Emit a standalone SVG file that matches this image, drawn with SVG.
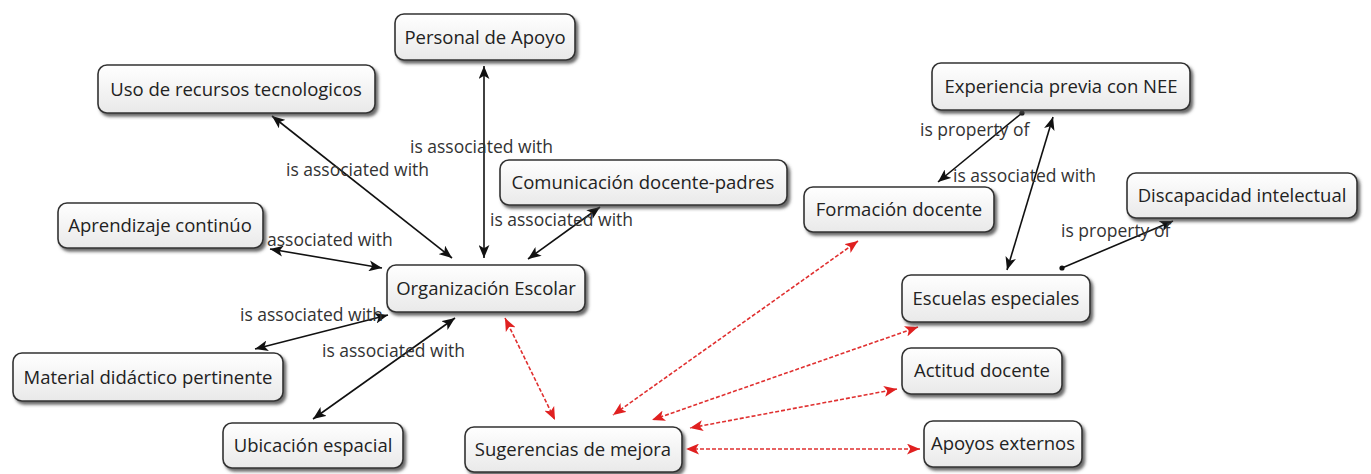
<svg xmlns="http://www.w3.org/2000/svg" width="1371" height="474" viewBox="0 0 1371 474">
<style>
.box{fill:url(#g);stroke:#333;stroke-width:1.6;filter:url(#sh)}
.nt{font-family:"Open Sans","Noto Sans",sans-serif;font-size:18.5px;fill:#222;text-anchor:middle}
.lb{font-family:"Open Sans","Noto Sans",sans-serif;font-size:17.5px;fill:#333}
.bk{stroke:#111;stroke-width:1.6;fill:none;marker-start:url(#ab);marker-end:url(#ab)}
.pr{stroke:#111;stroke-width:1.6;fill:none;marker-start:url(#dot);marker-end:url(#ab)}
.rd{stroke:#e03030;stroke-width:1.6;fill:none;stroke-dasharray:4 2;marker-start:url(#ar);marker-end:url(#ar)}
</style>
<defs>
<linearGradient id="g" x1="0" y1="0" x2="0" y2="1">
<stop offset="0" stop-color="#ffffff"/>
<stop offset="1" stop-color="#e9e9e9"/>
</linearGradient>
<filter id="sh" x="-10%" y="-20%" width="130%" height="160%">
<feDropShadow dx="2.5" dy="3" stdDeviation="1.5" flood-color="#444" flood-opacity="0.8"/>
</filter>
<marker id="ab" viewBox="0 0 12 10" refX="12" refY="5" markerWidth="13" markerHeight="11" markerUnits="userSpaceOnUse" orient="auto-start-reverse">
<path d="M0,0 L12,5 L0,10 L3,5 Z" fill="#111"/>
</marker>
<marker id="ar" viewBox="0 0 12 10" refX="12" refY="5" markerWidth="13" markerHeight="11" markerUnits="userSpaceOnUse" orient="auto-start-reverse">
<path d="M0,0 L12,5 L0,10 L3,5 Z" fill="#e02020"/>
</marker>
<marker id="dot" viewBox="0 0 6 6" refX="3" refY="3" markerWidth="6" markerHeight="6" markerUnits="userSpaceOnUse">
<circle cx="3" cy="3" r="2.6" fill="#111"/>
</marker>
</defs>
<rect width="1371" height="474" fill="#fff"/>
<g id="connectors">
<line class="bk" x1="272" y1="116" x2="452" y2="258"/>
<line class="bk" x1="484" y1="66" x2="484" y2="258"/>
<line class="bk" x1="600" y1="207" x2="528" y2="259"/>
<line class="bk" x1="270" y1="249" x2="382" y2="268"/>
<line class="bk" x1="255" y1="349" x2="388" y2="315"/>
<line class="bk" x1="313" y1="419" x2="455" y2="318"/>
<line class="pr" x1="1022" y1="113" x2="938" y2="182"/>
<line class="bk" x1="1007" y1="270" x2="1053" y2="117"/>
<line class="pr" x1="1062" y1="268" x2="1173" y2="221"/>
<line class="rd" x1="505" y1="318" x2="555" y2="420"/>
<line class="rd" x1="858" y1="241" x2="613" y2="415"/>
<line class="rd" x1="918" y1="327" x2="652" y2="420"/>
<line class="rd" x1="897" y1="389" x2="690" y2="428"/>
<line class="rd" x1="920" y1="449" x2="686" y2="449"/>
<text class="lb" x="286" y="176">is associated with</text>
<text class="lb" x="410" y="153">is associated with</text>
<text class="lb" x="490" y="226">is associated with</text>
<text class="lb" x="267" y="246">associated with</text>
<text class="lb" x="240" y="321">is associated with</text>
<text class="lb" x="322" y="357">is associated with</text>
<text class="lb" x="920" y="136">is property of</text>
<text class="lb" x="953" y="182">is associated with</text>
<text class="lb" x="1061" y="237">is property of</text>
</g>
<g id="n-personal"><rect class="box" x="395" y="14" width="180" height="46" rx="9"/><text class="nt" x="485" y="44">Personal de Apoyo</text></g>
<g id="n-uso"><rect class="box" x="98" y="65" width="277" height="48" rx="9"/><text class="nt" x="236" y="96">Uso de recursos tecnologicos</text></g>
<g id="n-comunicacion"><rect class="box" x="500" y="160" width="287" height="45" rx="9"/><text class="nt" x="643" y="189">Comunicación docente-padres</text></g>
<g id="n-aprendizaje"><rect class="box" x="58" y="203" width="205" height="45" rx="9"/><text class="nt" x="160" y="232">Aprendizaje continúo</text></g>
<g id="n-organizacion"><rect class="box" x="387" y="265" width="198" height="47" rx="9"/><text class="nt" x="486" y="295">Organización Escolar</text></g>
<g id="n-material"><rect class="box" x="13" y="353" width="270" height="48" rx="9"/><text class="nt" x="148" y="384">Material didáctico pertinente</text></g>
<g id="n-ubicacion"><rect class="box" x="223" y="423" width="180" height="45" rx="9"/><text class="nt" x="313" y="452">Ubicación espacial</text></g>
<g id="n-sugerencias"><rect class="box" x="465" y="427" width="217" height="45" rx="9"/><text class="nt" x="573" y="456">Sugerencias de mejora</text></g>
<g id="n-experiencia"><rect class="box" x="932" y="63" width="258" height="47" rx="9"/><text class="nt" x="1061" y="93">Experiencia previa con NEE</text></g>
<g id="n-formacion"><rect class="box" x="804" y="187" width="190" height="45" rx="9"/><text class="nt" x="899" y="216">Formación docente</text></g>
<g id="n-discapacidad"><rect class="box" x="1127" y="173" width="230" height="45" rx="9"/><text class="nt" x="1242" y="202">Discapacidad intelectual</text></g>
<g id="n-escuelas"><rect class="box" x="902" y="275" width="188" height="47" rx="9"/><text class="nt" x="996" y="305">Escuelas especiales</text></g>
<g id="n-actitud"><rect class="box" x="902" y="348" width="160" height="46" rx="9"/><text class="nt" x="982" y="377">Actitud docente</text></g>
<g id="n-apoyos"><rect class="box" x="924" y="421" width="158" height="46" rx="9"/><text class="nt" x="1003" y="450">Apoyos externos</text></g>
</svg>
